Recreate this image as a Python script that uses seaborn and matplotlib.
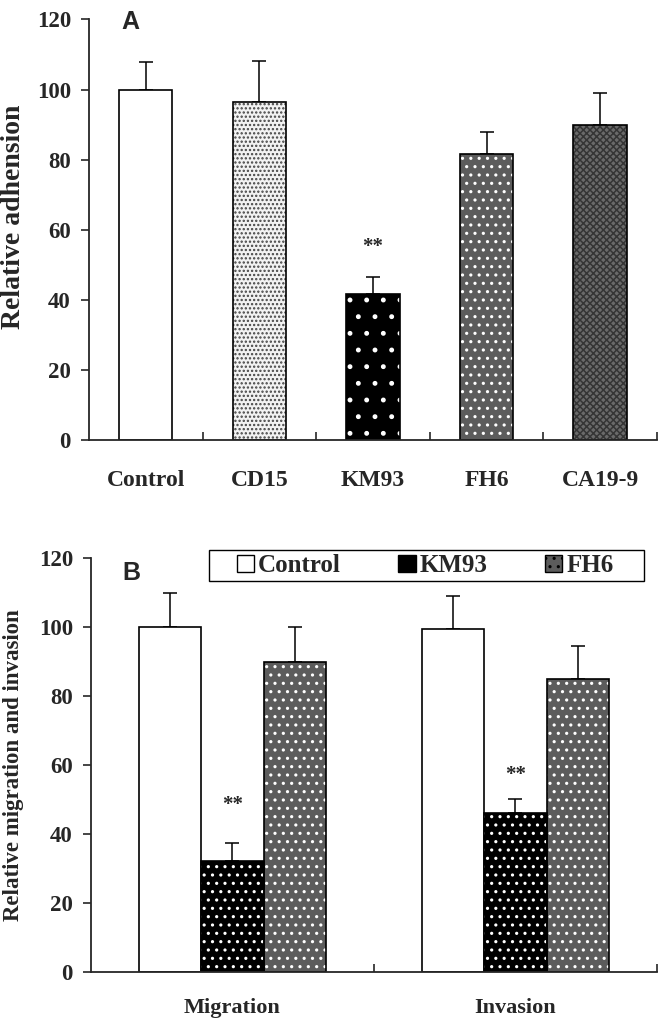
import matplotlib

matplotlib.use("Agg")
import matplotlib.pyplot as plt
import pandas as pd
import seaborn as sns
from matplotlib.patches import Patch, Rectangle

# --- values -----------------------------------------------------------------
ADH_GROUPS = ["Control", "CD15", "KM93", "FH6", "CA19-9"]
ADH_MEAN = [100, 96.5, 41.5, 81.5, 90]
ADH_ERR = [7.8, 11.5, 5.0, 6.5, 9.0]
ADH_STAR = {"KM93": 55}

MI_ASSAYS = ["Migration", "Invasion"]
MI_TREAT = ["Control", "KM93", "FH6"]
MI_MEAN = {"Control": [100, 99.5], "KM93": [32.3, 46], "FH6": [90, 85]}
MI_ERR = {"Control": [9.8, 9.5], "KM93": [5.2, 4.0], "FH6": [10, 9.5]}
MI_STAR = {"Migration": 48.5, "Invasion": 57}

# fill style per antibody: (face, hatch, hatch colour)
STYLE = {
    "Control": ("white", "", "black"),
    "CD15": ("#f2f2f2", "....", "#444444"),
    "KM93": ("black", ".", "white"),
    "FH6": ("#5c5c5c", "..", "white"),
    "CA19-9": ("#6a6a6a", "xxxxx", "#353535"),
}

SERIF = ["Liberation Serif", "DejaVu Serif"]
SANS = ["Liberation Sans", "DejaVu Sans"]
sns.set_style("ticks")
plt.rcParams["font.family"] = SERIF
plt.rcParams["font.weight"] = "bold"
plt.rcParams["hatch.linewidth"] = 1.1


def style_bar(ax, patch, name, dots=None):
    face, hatch, hcol = STYLE[name]
    if dots is not None:
        hatch = dots
    patch.set_facecolor(face)
    patch.set_hatch(hatch)
    if hatch and hasattr(patch, "set_hatchcolor"):
        patch.set_edgecolor("black")
        patch.set_linewidth(1.2)
        patch.set_hatchcolor(hcol)
    elif hatch:
        # old matplotlib: hatch follows edgecolor, so outline separately
        patch.set_edgecolor(hcol)
        patch.set_linewidth(0)
        ax.add_patch(Rectangle(patch.get_xy(), patch.get_width(), patch.get_height(),
                               fill=False, edgecolor="black", linewidth=1.2,
                               zorder=patch.get_zorder() + 0.1))
    else:
        patch.set_edgecolor("black")
        patch.set_linewidth(1.2)


def up_errors(ax, patches, errs):
    xs = [p.get_x() + p.get_width() / 2 for p in patches]
    ys = [p.get_height() for p in patches]
    ax.errorbar(xs, ys, yerr=[[0] * len(errs), errs], fmt="none", ecolor="black",
                elinewidth=1.1, capsize=5, capthick=1.1, zorder=1)


def base_axes(ax, ylabel, ysize):
    ax.set_ylim(0, 120)
    ax.set_yticks(range(0, 121, 20))
    ax.set_ylabel(ylabel, fontsize=ysize, fontweight="bold")
    ax.set_xlabel("")
    sns.despine(ax=ax)
    for s in ("left", "bottom"):
        ax.spines[s].set_linewidth(1.3)
    ax.tick_params(axis="y", direction="out", length=6, width=1.2, pad=7, labelsize=16.5)
    ax.tick_params(axis="x", which="major", length=0)
    ax.tick_params(axis="x", which="minor", direction="in", length=6, width=1.2)
    for lab in ax.get_xticklabels() + ax.get_yticklabels():
        lab.set_fontweight("bold")


fig = plt.figure(figsize=(6.67, 10.23), dpi=100)
ax_a = fig.add_axes([0.1334, 0.570, 0.8516, 0.411])
ax_b = fig.add_axes([0.1364, 0.0499, 0.8486, 0.4046])

# --- panel A ------------------------------------------------------------------
adh = pd.DataFrame({"group": ADH_GROUPS, "value": ADH_MEAN})
sns.barplot(data=adh, x="group", y="value", order=ADH_GROUPS, width=0.47,
            errorbar=None, color="white", ax=ax_a, zorder=2)
bars_a = list(ax_a.containers[0])
for p, name in zip(bars_a, ADH_GROUPS):
    style_bar(ax_a, p, name)
up_errors(ax_a, bars_a, ADH_ERR)
for p, name in zip(bars_a, ADH_GROUPS):
    if name in ADH_STAR:
        ax_a.text(p.get_x() + p.get_width() / 2, ADH_STAR[name], "**",
                  ha="center", va="center", fontsize=15, fontweight="bold")
ax_a.set_xlim(-0.5, len(ADH_GROUPS) - 0.5)
ax_a.set_xticks([i + 0.5 for i in range(len(ADH_GROUPS))], minor=True)
base_axes(ax_a, "Relative adhension", 20)
ax_a.tick_params(axis="x", which="major", pad=22, labelsize=17)
ax_a.yaxis.set_label_coords(-0.11, 0.53)
ax_a.text(0.072, 0.995, "A", transform=ax_a.transAxes, fontsize=18, fontweight="bold",
          family=SANS, ha="center", va="center")

# --- panel B ------------------------------------------------------------------
mi = pd.DataFrame(
    [(a, t, MI_MEAN[t][i]) for t in MI_TREAT for i, a in enumerate(MI_ASSAYS)],
    columns=["assay", "treatment", "value"],
)
sns.barplot(data=mi, x="assay", y="value", hue="treatment", order=MI_ASSAYS,
            hue_order=MI_TREAT, width=0.66, errorbar=None, legend=False,
            palette=["white"] * 3, ax=ax_b, zorder=2)
for cont, t in zip(ax_b.containers, MI_TREAT):
    bars = list(cont)
    for p in bars:
        style_bar(ax_b, p, t, dots=".." if t == "KM93" else None)
    up_errors(ax_b, bars, MI_ERR[t])
    if t == "KM93":
        for p, a in zip(bars, MI_ASSAYS):
            ax_b.text(p.get_x() + p.get_width() / 2, MI_STAR[a], "**",
                      ha="center", va="center", fontsize=15, fontweight="bold")
ax_b.set_xlim(-0.5, len(MI_ASSAYS) - 0.5)
ax_b.set_xticks([i + 0.5 for i in range(len(MI_ASSAYS))], minor=True)
base_axes(ax_b, "Relative migration and invasion", 16.5)
ax_b.tick_params(axis="x", which="major", pad=19, labelsize=16)
ax_b.yaxis.set_label_coords(-0.118, 0.5)
ax_b.text(0.072, 0.965, "B", transform=ax_b.transAxes, fontsize=18, fontweight="bold",
          family=SANS, ha="center", va="center")

handles = []
for t in MI_TREAT:
    face, hatch, hcol = STYLE[t]
    h = Patch(facecolor=face, edgecolor="black", hatch=hatch, linewidth=1.0, label=t)
    if hatch and hasattr(h, "set_hatchcolor"):
        h.set_hatchcolor(hcol)
    handles.append(h)
# the original legend box is wider than its entries, so draw the frame by hand
ax_b.add_patch(Rectangle((0.208, 0.944), 0.769, 0.075, transform=ax_b.transAxes,
                         facecolor="white", edgecolor="black", linewidth=1.0,
                         clip_on=False, zorder=4))
leg = ax_b.legend(handles=handles, loc="center", bbox_to_anchor=(0.59, 0.981),
                  ncol=3, frameon=False, handlelength=0.7, handleheight=0.7,
                  handletextpad=0.15, columnspacing=2.3, borderpad=0.2,
                  prop={"family": SERIF, "weight": "bold", "size": 18})
leg.set_zorder(5)

fig.savefig("out.png", dpi=100)
